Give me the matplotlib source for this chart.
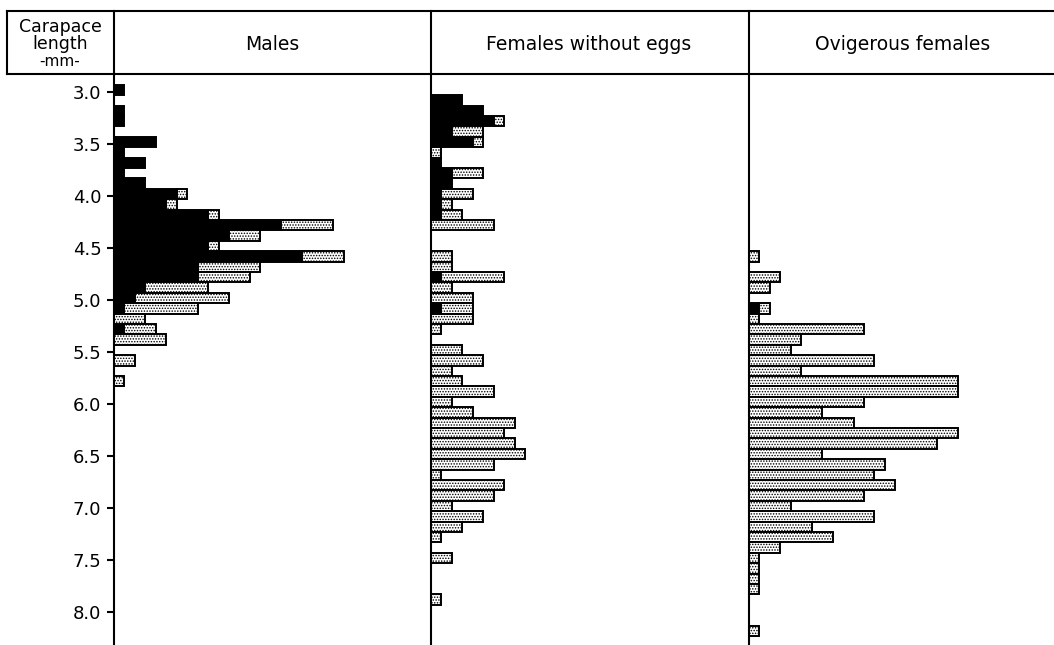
import numpy as np
import matplotlib.pyplot as plt
from matplotlib.lines import Line2D

plt.rcParams['font.family'] = ['DejaVu Sans']
plt.rcParams['hatch.linewidth'] = 0.7

# carapace length classes (mm); black part drawn first, stippled part stacked after it
males_len = [3.0, 3.2, 3.3, 3.5, 3.6, 3.7, 3.8, 3.9, 4.0, 4.1, 4.2, 4.3, 4.4,
             4.5, 4.6, 4.7, 4.8, 4.9, 5.0, 5.1, 5.2, 5.3, 5.4, 5.6, 5.8]
males_black = [1, 1, 1, 4, 1, 3, 1, 3, 6, 5, 9, 16, 11,
               9, 18, 8, 8, 3, 2, 1, 0, 1, 0, 0, 0]
males_stip = [0, 0, 0, 0, 0, 0, 0, 0, 1, 1, 1, 5, 3,
              1, 4, 6, 5, 6, 9, 7, 3, 3, 5, 2, 1]

fem_len = [3.1, 3.2, 3.3, 3.4, 3.5, 3.6, 3.7, 3.8, 3.9, 4.0,
           4.1, 4.2, 4.3, 4.6, 4.7, 4.8, 4.9, 5.0, 5.1, 5.2, 5.3,
           5.5, 5.6, 5.7, 5.8, 5.9, 6.0, 6.1, 6.2, 6.3, 6.4, 6.5, 6.6, 6.7,
           6.8, 6.9, 7.0, 7.1, 7.2, 7.3, 7.5, 7.9]
fem_black = [3, 5, 6, 2, 4, 0, 1, 2, 2, 1,
             1, 1, 0, 0, 0, 1, 0, 0, 1, 0, 0,
             0, 0, 0, 0, 0, 0, 0, 0, 0, 0, 0, 0, 0,
             0, 0, 0, 0, 0, 0, 0, 0]
fem_stip = [0, 0, 1, 3, 1, 1, 0, 3, 0, 3,
            1, 2, 6, 2, 2, 6, 2, 4, 3, 4, 1,
            3, 5, 2, 3, 6, 2, 4, 8, 7, 8, 9, 6, 1,
            7, 6, 2, 5, 3, 1, 2, 1]

ovi_len = [4.6, 4.8, 4.9, 5.1, 5.2, 5.3, 5.4, 5.5, 5.6, 5.7, 5.8, 5.9, 6.0,
           6.1, 6.2, 6.3, 6.4, 6.5, 6.6, 6.7, 6.8, 6.9, 7.0, 7.1, 7.2, 7.3,
           7.4, 7.5, 7.6, 7.7, 7.8, 8.2]
ovi_black = [0, 0, 0, 1, 0, 0, 0, 0, 0, 0, 0, 0, 0,
             0, 0, 0, 0, 0, 0, 0, 0, 0, 0, 0, 0, 0,
             0, 0, 0, 0, 0, 0]
ovi_stip = [1, 3, 2, 1, 1, 11, 5, 4, 12, 5, 20, 20, 11,
            7, 10, 20, 18, 7, 13, 12, 14, 11, 4, 12, 6, 8,
            3, 1, 1, 1, 1, 1]

titles = ['Males', 'Females without eggs', 'Ovigerous females']
yticks = [3.0, 3.5, 4.0, 4.5, 5.0, 5.5, 6.0, 6.5, 7.0, 7.5, 8.0]

W, H = 1054, 645
fig = plt.figure(figsize=(W / 100, H / 100), dpi=100)
unit_px = 10.45  # pixels per individual
top_px = 74


def fx(x):
    return x / W


def fy(y):
    return 1 - y / H


panels = [
    (114, 431, 272, males_len, males_black, males_stip),
    (431, 749, 589, fem_len, fem_black, fem_stip),
    (749, W, 903, ovi_len, ovi_black, ovi_stip),
]

for i, (x0, x1, xt, lens, blk, stp) in enumerate(panels):
    ax = fig.add_axes([fx(x0), 0, (x1 - x0) / W, (H - top_px) / H])
    y = np.array(lens) - 0.02
    blk = np.array(blk)
    stp = np.array(stp)
    m = blk > 0
    ax.barh(y[m], blk[m], height=0.1, color='black', edgecolor='black', lw=1.4)
    m = stp > 0
    ax.barh(y[m], stp[m], left=blk[m], height=0.1, facecolor='white',
            edgecolor='black', hatch='......', lw=1.4)
    ax.set_xlim(0, (x1 - x0) / unit_px)
    ax.set_ylim(8.317, 2.827)
    for s in ['top', 'right', 'bottom']:
        ax.spines[s].set_visible(False)
    ax.spines['left'].set_linewidth(1.5)
    ax.set_xticks([])
    if i == 0:
        ax.set_yticks(yticks)
        ax.set_yticklabels(['%.1f' % t for t in yticks], fontsize=13)
        ax.tick_params(axis='y', length=5, width=1.5, pad=4)
    else:
        ax.set_yticks([])
    fig.text(fx(xt), fy(45), titles[i], ha='center', va='center', fontsize=13.5)

# header box lines
lw = 1.5
fig.add_artist(Line2D([fx(7), 1], [fy(11), fy(11)], color='black', lw=lw))
fig.add_artist(Line2D([fx(7), 1], [fy(top_px), fy(top_px)], color='black', lw=lw))
for xv in [7, 114, 431, 749]:
    fig.add_artist(Line2D([fx(xv), fx(xv)], [fy(11), fy(top_px)], color='black', lw=lw))

fig.text(fx(60), fy(27), 'Carapace', ha='center', va='center', fontsize=12.5)
fig.text(fx(60), fy(44), 'length', ha='center', va='center', fontsize=12.5)
fig.text(fx(60), fy(62), '-mm-', ha='center', va='center', fontsize=11)

fig.savefig('out.png', dpi=100)
